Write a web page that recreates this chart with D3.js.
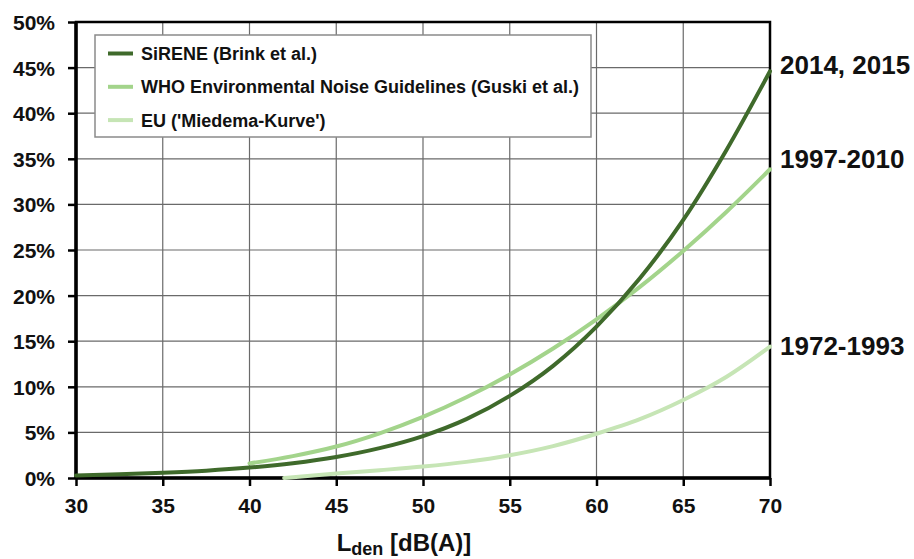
<!DOCTYPE html>
<html>
<head>
<meta charset="utf-8">
<script src="https://cdn.jsdelivr.net/npm/d3@7"></script>
<style>
  body { margin: 0; background: #fff; }
  svg text { font-family: "Liberation Sans", Arial, sans-serif; font-weight: bold; fill: #111; }
</style>
</head>
<body>
<div id="chart"></div>
<script>

// level in dB(A) and share of highly annoyed (%)
var sireneX = [30, 32.5, 35, 37.5, 40, 42.5, 45, 47.5, 50, 52.5, 55, 57.5, 60, 62.5, 65, 67.5, 70];
var sireneY = [0.28, 0.4, 0.57, 0.8, 1.14, 1.62, 2.3, 3.27, 4.6, 6.45, 9.0, 12.3, 16.6, 21.9, 28.3, 36.0, 44.6];

var whoX = [40, 42.5, 45, 47.5, 50, 52.5, 55, 57.5, 60, 62.5, 65, 67.5, 70];
var whoY = [1.6, 2.4, 3.45, 4.9, 6.7, 8.85, 11.35, 14.2, 17.4, 20.95, 24.9, 29.2, 33.85];

var euX = [42, 45, 47.5, 50, 52.5, 55, 57.5, 60, 62.5, 65, 67.5, 70];
var euY = [0, 0.5, 0.86, 1.25, 1.77, 2.5, 3.5, 4.85, 6.45, 8.55, 11.1, 14.4];

var seriesNames = ["SiRENE (Brink et al.)", "WHO Environmental Noise Guidelines (Guski et al.)", "EU ('Miedema-Kurve')"];
var endLabels = ["2014, 2015", "1997-2010", "1972-1993"];
var endLabelY = [45.3, 35.0, 14.5];

var xTicks = [30, 35, 40, 45, 50, 55, 60, 65, 70];
var yTicks = [0, 5, 10, 15, 20, 25, 30, 35, 40, 45, 50];

var margin = {top: 22, right: 144, bottom: 81, left: 76},
    width = 914,
    height = 559,
    boundedWidth = width - margin.left - margin.right,
    boundedHeight = height - margin.top - margin.bottom;

var colors = ["#3f6a2b", "#a3d48b", "#c6e5b5"];

var svg = d3.select("#chart").append("svg")
  .attr("width", width)
  .attr("height", height);

var xScale = d3.scaleLinear().domain([30, 70]).range([0, boundedWidth]),
    yScale = d3.scaleLinear().domain([0, 50]).range([boundedHeight, 0]);

var g = svg.append("g")
  .attr("transform", `translate(${margin.left},${margin.top})`);

// grid
g.append("g").selectAll("line")
  .data(xTicks.slice(1, -1))
  .enter().append("line")
  .attr("x1", d => xScale(d)).attr("x2", d => xScale(d))
  .attr("y1", 0).attr("y2", boundedHeight)
  .attr("stroke", "#6a6a6a").attr("stroke-width", 1.2);

g.append("g").selectAll("line")
  .data(yTicks.slice(1, -1))
  .enter().append("line")
  .attr("y1", d => yScale(d)).attr("y2", d => yScale(d))
  .attr("x1", 0).attr("x2", boundedWidth)
  .attr("stroke", "#6a6a6a").attr("stroke-width", 1.2);

// axes
var xAxis = d3.axisBottom(xScale).tickValues(xTicks).tickSize(8).tickPadding(8).tickFormat(d3.format("d"));
var yAxis = d3.axisLeft(yScale).tickValues(yTicks).tickSize(8).tickPadding(13).tickFormat(d => d + "%");

var gx = g.append("g")
  .attr("transform", `translate(0,${boundedHeight})`)
  .call(xAxis);
var gy = g.append("g").call(yAxis);

[gx, gy].forEach(function(a) {
  a.select(".domain").remove();
  a.selectAll(".tick line").attr("stroke", "#000").attr("stroke-width", 2.5);
  a.selectAll(".tick text")
    .style("font-family", "'Liberation Sans', Arial, sans-serif")
    .style("font-weight", "bold")
    .style("font-size", "21px")
    .attr("fill", "#111");
});
gx.selectAll(".tick text").attr("dy", "0.9em");
gy.selectAll(".tick text").attr("dy", "0.36em");

// frame
g.append("rect")
  .attr("x", 0).attr("y", 0)
  .attr("width", boundedWidth).attr("height", boundedHeight)
  .attr("fill", "none")
  .attr("stroke", "#000")
  .attr("stroke-width", 2.5);

g.append("line")
  .attr("x1", 0).attr("x2", 0).attr("y1", 0).attr("y2", boundedHeight)
  .attr("stroke", "#000").attr("stroke-width", 3.5);
g.append("line")
  .attr("x1", 0).attr("x2", boundedWidth).attr("y1", boundedHeight).attr("y2", boundedHeight)
  .attr("stroke", "#000").attr("stroke-width", 3.5);

// curves
var lineGenerator = d3.line()
  .x(d => xScale(d[0]))
  .y(d => yScale(d[1]))
  .curve(d3.curveMonotoneX);

var lineData = [
  d3.zip(sireneX, sireneY),
  d3.zip(whoX, whoY),
  d3.zip(euX, euY)
];

// draw lightest first so the dark line is on top
[2, 1, 0].forEach(function(i) {
  g.append("path")
    .attr("d", lineGenerator(lineData[i]))
    .attr("fill", "none")
    .attr("stroke", colors[i])
    .attr("stroke-width", 4)
    .attr("stroke-linecap", "round");
});

// end labels
g.selectAll(".end-label")
  .data(endLabels)
  .enter().append("text")
  .attr("class", "end-label")
  .attr("x", boundedWidth + 10)
  .attr("y", (d, i) => yScale(endLabelY[i]))
  .attr("dy", "0.36em")
  .style("font-size", "26px")
  .text(d => d);

// legend
var legend = svg.append("g").attr("transform", "translate(95,35)");
legend.append("rect")
  .attr("width", 496).attr("height", 102)
  .attr("fill", "#fff")
  .attr("stroke", "#8a8a8a")
  .attr("stroke-width", 1.5);

var items = legend.selectAll(".item")
  .data(seriesNames)
  .enter().append("g")
  .attr("transform", (d, i) => `translate(0,${18.5 + i * 33.3})`);

items.append("line")
  .attr("x1", 13).attr("x2", 38)
  .attr("stroke", (d, i) => colors[i])
  .attr("stroke-width", 4);

items.append("text")
  .attr("x", 46)
  .attr("dy", "0.36em")
  .style("font-size", "18px")
  .text(d => d);

// axis title
var title = svg.append("text")
  .attr("x", 404)
  .attr("y", 551)
  .attr("text-anchor", "middle")
  .style("font-size", "24px");
title.append("tspan").text("L");
title.append("tspan").attr("dy", 4).style("font-size", "18px").text("den");
title.append("tspan").attr("dy", -4).text(" [dB(A)]");

</script>
</body>
</html>
